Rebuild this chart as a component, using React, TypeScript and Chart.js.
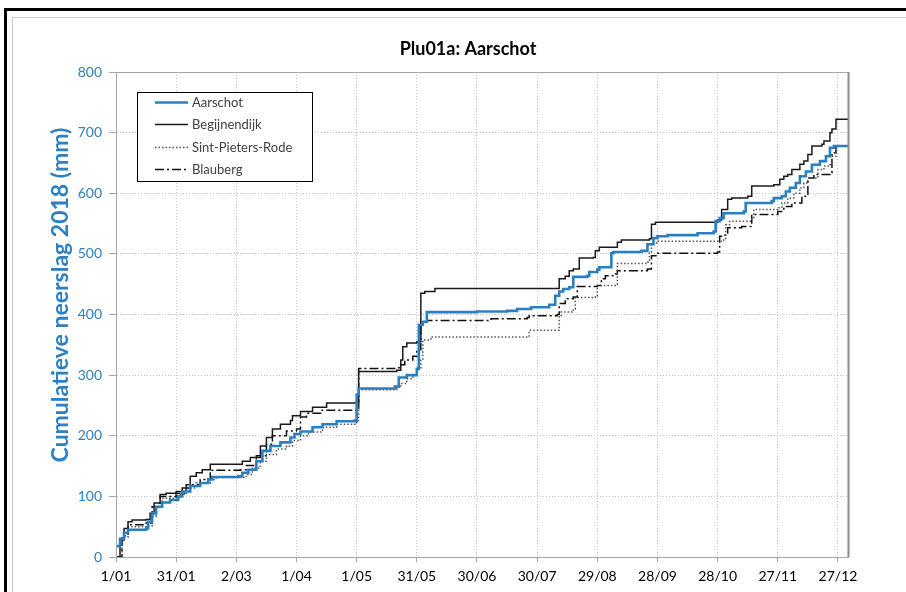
import React, { useEffect, useRef } from 'react';
import { Chart, registerables } from 'chart.js';

Chart.register(...registerables);

const chartTitle = 'Plu01a: Aarschot';
const yAxisTitle = 'Cumulatieve neerslag 2018 (mm)';
const xTickLabels = ['1/01', '31/01', '2/03', '1/04', '1/05', '31/05', '30/06', '30/07', '29/08', '28/09', '28/10', '27/11', '27/12'];
const seriesNames = ['Aarschot', 'Begijnendijk', 'Sint-Pieters-Rode', 'Blauberg'];

// day of year (0 = 1 Jan) and cumulative rainfall (mm)
const aarschotDays = [0, 2, 4, 6, 15, 16, 18, 20, 23, 27, 31, 33, 37, 42, 46, 48, 61, 63, 66, 70, 73, 77, 82, 87, 89, 92, 98, 103, 110, 119, 120, 121, 139, 141, 145, 150, 151, 153, 155, 180, 195, 200, 207, 216, 219, 221, 223, 226, 228, 235, 236, 240, 241, 247, 248, 262, 265, 268, 270, 275, 290, 298, 299, 301, 303, 313, 314, 327, 328, 332, 334, 336, 339, 341, 344, 347, 351, 354, 356, 358, 365];
const aarschotMm = [18, 30, 40, 45, 47, 58, 72, 83, 90, 94, 100, 108, 117, 122, 128, 132, 133, 139, 144, 158, 175, 183, 189, 197, 203, 207, 214, 219, 224, 225, 268, 278, 281, 296, 300, 310, 383, 388, 404, 405, 406, 409, 412, 416, 431, 438, 442, 445, 462, 464, 470, 474, 478, 501, 503, 505, 516, 526, 529, 531, 534, 537, 554, 559, 567, 570, 584, 587, 592, 595, 603, 609, 617, 628, 636, 647, 653, 661, 675, 678, 678];

const begijnendijkDays = [0, 2, 4, 6, 8, 15, 17, 19, 22, 25, 30, 33, 37, 40, 43, 47, 62, 63, 67, 72, 75, 78, 82, 87, 88, 92, 98, 105, 120, 121, 140, 142, 143, 145, 150, 152, 154, 159, 220, 221, 224, 226, 228, 231, 238, 239, 241, 250, 252, 266, 267, 269, 300, 302, 305, 307, 315, 317, 328, 331, 333, 335, 337, 341, 343, 345, 347, 352, 353, 356, 357, 359, 365];
const begijnendijkMm = [0, 28, 47, 58, 61, 62, 72, 89, 103, 105, 108, 114, 133, 139, 144, 153, 153, 158, 164, 183, 197, 211, 219, 225, 233, 240, 247, 254, 256, 306, 308, 325, 347, 353, 355, 435, 438, 443, 443, 459, 463, 472, 475, 493, 494, 505, 511, 519, 523, 525, 549, 552, 556, 573, 590, 592, 595, 612, 614, 623, 628, 631, 639, 648, 653, 664, 678, 681, 686, 700, 706, 722, 722];

const sintPietersRodeDays = [0, 3, 6, 15, 18, 20, 23, 30, 35, 40, 47, 50, 62, 65, 68, 72, 75, 80, 85, 88, 92, 96, 103, 110, 120, 121, 140, 142, 145, 148, 150, 152, 153, 157, 205, 206, 220, 221, 222, 228, 229, 239, 240, 249, 250, 265, 266, 267, 270, 303, 304, 306, 317, 318, 330, 332, 335, 338, 341, 343, 345, 350, 353, 356, 357, 359, 365];
const sintPietersRodeMm = [0, 33, 50, 51, 67, 83, 97, 103, 114, 122, 128, 131, 131, 136, 147, 158, 169, 178, 183, 192, 200, 206, 214, 219, 225, 276, 280, 286, 294, 300, 312, 325, 358, 363, 363, 374, 374, 396, 404, 409, 428, 431, 448, 450, 484, 486, 503, 518, 521, 523, 548, 554, 559, 573, 576, 584, 592, 600, 609, 617, 625, 639, 645, 647, 661, 678, 680];

const blaubergDays = [0, 3, 6, 15, 18, 22, 30, 35, 42, 47, 62, 65, 70, 75, 78, 85, 90, 92, 95, 102, 120, 121, 140, 142, 144, 148, 150, 152, 155, 185, 187, 205, 206, 220, 221, 224, 228, 230, 240, 242, 244, 249, 250, 265, 267, 270, 300, 301, 303, 305, 312, 317, 329, 330, 333, 337, 342, 345, 348, 356, 357, 359, 365];
const blaubergMm = [0, 35, 53, 56, 83, 100, 105, 119, 128, 143, 144, 151, 167, 186, 200, 208, 211, 231, 237, 242, 245, 311, 312, 317, 325, 331, 342, 388, 390, 390, 393, 395, 398, 400, 418, 426, 429, 446, 448, 459, 464, 467, 472, 475, 497, 501, 503, 529, 531, 543, 545, 565, 565, 570, 578, 584, 595, 625, 631, 634, 667, 678, 678];

const FONT = 'Lato, "Liberation Sans", sans-serif';
const BLUE = '#2a7fc1';
const TEXT_BLUE = '#2f80c0';

const toPoints = (days: number[], mm: number[]) => days.map((d, i) => ({ x: d, y: mm[i] }));

const decorPlugin = {
  id: 'decor',
  beforeDraw(chart: any) {
    const ctx = chart.ctx as CanvasRenderingContext2D;
    const w = chart.width;
    const h = chart.height;
    ctx.save();
    ctx.fillStyle = '#ffffff';
    ctx.fillRect(0, 0, w, h);
    ctx.fillStyle = '#000000';
    ctx.fillRect(4, 8, w - 4, 3);
    ctx.fillRect(4, 8, 3, h - 8);
    ctx.strokeStyle = '#c8c8c8';
    ctx.lineWidth = 1;
    ctx.beginPath();
    ctx.moveTo(12.5, h);
    ctx.lineTo(12.5, 17.5);
    ctx.lineTo(w, 17.5);
    ctx.stroke();
    ctx.restore();
  },
  afterDatasetsDraw(chart: any) {
    const ctx = chart.ctx as CanvasRenderingContext2D;
    const a = chart.chartArea;
    ctx.save();
    // plot area border
    ctx.strokeStyle = '#a6a6a6';
    ctx.lineWidth = 1;
    ctx.setLineDash([]);
    ctx.strokeRect(Math.round(a.left) + 0.5, Math.round(a.top) + 0.5, Math.round(a.right - a.left), Math.round(a.bottom - a.top));
    ctx.strokeStyle = '#8c8c8c';
    ctx.lineWidth = 2;
    ctx.beginPath();
    ctx.moveTo(Math.round(a.right) + 0.5, a.top);
    ctx.lineTo(Math.round(a.right) + 0.5, a.bottom);
    ctx.stroke();

    // title
    ctx.fillStyle = '#000000';
    ctx.font = `bold 18px ${FONT}`;
    ctx.textAlign = 'center';
    ctx.textBaseline = 'middle';
    ctx.fillText(chartTitle, 468, 49);

    // y axis title
    ctx.save();
    ctx.translate(61, 295);
    ctx.rotate(-Math.PI / 2);
    ctx.fillStyle = TEXT_BLUE;
    ctx.font = `bold 23px ${FONT}`;
    ctx.fillText(yAxisTitle, 0, 0);
    ctx.restore();

    // legend
    const lx = 137.5, ly = 92.5, lw = 175, lh = 89;
    ctx.fillStyle = '#ffffff';
    ctx.fillRect(lx, ly, lw, lh);
    ctx.strokeStyle = '#000000';
    ctx.lineWidth = 1;
    ctx.strokeRect(lx, ly, lw, lh);
    const rows = [102, 124, 147, 169];
    chart.data.datasets.forEach((ds: any, i: number) => {
      const y = rows[i] + 0.5;
      ctx.strokeStyle = ds.borderColor;
      ctx.lineWidth = ds.borderWidth;
      ctx.setLineDash(ds.borderDash || []);
      ctx.beginPath();
      ctx.moveTo(155, y);
      ctx.lineTo(188, y);
      ctx.stroke();
      ctx.setLineDash([]);
      ctx.fillStyle = '#404040';
      ctx.font = `13px ${FONT}`;
      ctx.textAlign = 'left';
      ctx.textBaseline = 'middle';
      ctx.fillText(ds.label, 192, y);
    });
    ctx.restore();
  },
};

export default function App() {
  const canvasRef = useRef<HTMLCanvasElement | null>(null);

  useEffect(() => {
    document.body.style.margin = '0';
    const canvas = canvasRef.current;
    if (!canvas) return;
    const common = { stepped: 'before' as const, pointRadius: 0, fill: false };
    const chart = new Chart(canvas, {
      type: 'line',
      data: {
        datasets: [
          {
            label: seriesNames[0],
            data: toPoints(aarschotDays, aarschotMm),
            borderColor: BLUE,
            borderWidth: 2.6,
            ...common,
          },
          {
            label: seriesNames[1],
            data: toPoints(begijnendijkDays, begijnendijkMm),
            borderColor: '#1a1a1a',
            borderWidth: 1.5,
            ...common,
          },
          {
            label: seriesNames[2],
            data: toPoints(sintPietersRodeDays, sintPietersRodeMm),
            borderColor: '#555555',
            borderWidth: 1.5,
            borderDash: [1.5, 2],
            ...common,
          },
          {
            label: seriesNames[3],
            data: toPoints(blaubergDays, blaubergMm),
            borderColor: '#111111',
            borderWidth: 1.5,
            borderDash: [9, 3, 2, 3],
            ...common,
          },
        ],
      },
      options: {
        responsive: false,
        animation: false,
        events: [],
        layout: { padding: { top: 72, right: 58, bottom: 0, left: 0 } },
        plugins: {
          legend: { display: false },
          title: { display: false },
          tooltip: { enabled: false },
        },
        scales: {
          x: {
            type: 'linear',
            min: 0,
            max: 365,
            afterFit: (s: any) => { s.height = 35; },
            afterBuildTicks: (s: any) => {
              s.ticks = xTickLabels.map((_, i) => ({ value: i * 30 }));
            },
            ticks: {
              autoSkip: false,
              maxRotation: 0,
              padding: 6,
              color: '#000000',
              font: { family: FONT, size: 14 },
              callback: (v: any) => xTickLabels[Math.round(Number(v) / 30)] ?? '',
            },
            grid: {
              color: '#c4c4c4',
              lineWidth: 1,
              tickLength: 5,
              tickColor: '#a6a6a6',
              tickBorderDash: [],
            },
            border: { display: true, color: '#a6a6a6', width: 1, dash: [1, 2] },
          },
          y: {
            type: 'linear',
            min: 0,
            max: 800,
            afterFit: (s: any) => { s.width = 116; },
            ticks: {
              stepSize: 100,
              padding: 7,
              color: TEXT_BLUE,
              font: { family: FONT, size: 14 },
            },
            grid: {
              color: '#c4c4c4',
              lineWidth: 1,
              tickLength: 7,
              tickColor: '#a6a6a6',
              tickBorderDash: [],
            },
            border: { display: true, color: '#a6a6a6', width: 1, dash: [1, 2] },
          },
        },
      },
      plugins: [decorPlugin],
    });
    return () => chart.destroy();
  }, []);

  return (
    <div style={{ width: 906, height: 592, position: 'relative', overflow: 'hidden' }}>
      <canvas ref={canvasRef} width={906} height={592} style={{ display: 'block', width: 906, height: 592 }} />
    </div>
  );
}
